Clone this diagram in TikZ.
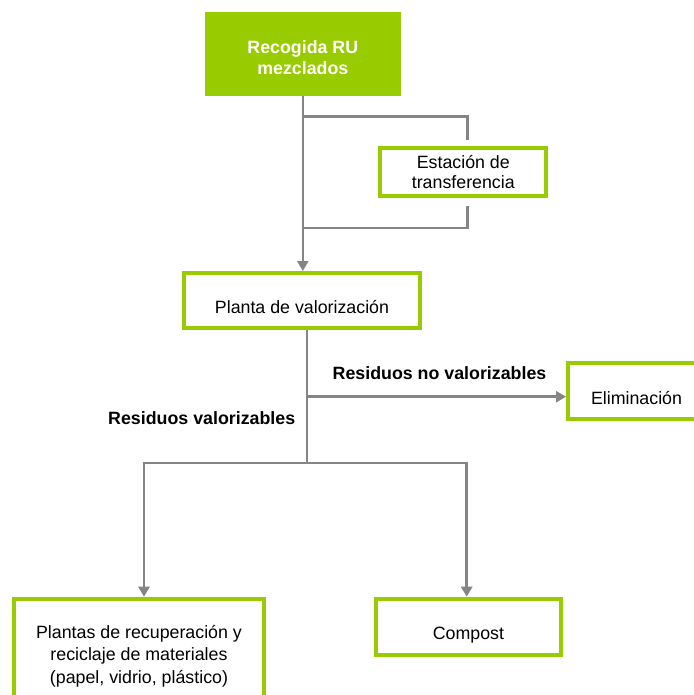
\documentclass[tikz,border=0pt]{standalone}
\usepackage{fontspec}
\setmainfont{Liberation Sans}
\usetikzlibrary{arrows.meta}

\definecolor{lime}{HTML}{99CC00}
\definecolor{flowgray}{HTML}{858585}
\newcommand{\flowfont}{\fontsize{17.8}{21.5}\selectfont}

\begin{document}
\begin{tikzpicture}[
        x=1pt, y=-1pt,
        font=\flowfont,
        box/.style={draw=lime, line width=4pt, inner sep=0pt},
        topbox/.style={fill=lime, draw=lime, line width=1pt, inner sep=0pt, align=center, text=white, font=\flowfont\bfseries},
        lowtext/.style={text height=26pt, text depth=0pt},
        tag/.style={font=\flowfont\bfseries},
        flow/.style={draw=flowgray, line width=2.5pt},
        flowarrow/.style={flow, -{Triangle[width=11pt, length=10pt]}},
    ]

    % Marco del dibujo
    \useasboundingbox (0,0) rectangle (693,695);

    % Cajas
    \node[topbox, text height=42pt, text depth=0pt, minimum width=194.7pt, minimum height=82.4pt] (recogida) at (302.8,54) {Recogida RU\\mezclados};
    \node[box, align=center, minimum width=166pt, minimum height=48pt] (estacion) at (463.3,171.7) {Estación de\\[-1.5pt]transferencia};
    \node[box, lowtext, minimum width=235.4pt, minimum height=55pt] (planta) at (302,300.5) {Planta de valorización};
    \node[box, lowtext, minimum width=137pt, minimum height=56pt] (eliminacion) at (636.5,391) {Eliminación};
    \node[box, align=center, minimum width=249.4pt, minimum height=114.6pt] (plantas) at (139,656) {Plantas de recuperación y\\[1pt]reciclaje de materiales\\[1pt](papel, vidrio, plástico)};
    \node[box, lowtext, minimum width=184.7pt, minimum height=56pt] (compost) at (468.4,626.7) {Compost};

    % Etiquetas de las ramas
    \node[tag] (noval) at (439.5,373) {Residuos no valorizables};
    \node[tag] (val) at (201.7,418) {Residuos valorizables};

    % Puntos de paso
    \coordinate (desvio) at (recogida.south |- 0,116.7);
    \coordinate (retorno) at (recogida.south |- 0,228);
    \coordinate (entrada) at ([xshift=4pt, yshift=6pt]estacion.north);
    \coordinate (salida) at ([xshift=4pt, yshift=-8pt]estacion.south);
    \coordinate (tronco) at ([xshift=5pt]planta.south);
    \coordinate (rechazo) at (tronco |- 0,396.7);
    \coordinate (reparto) at (tronco |- 0,463);

    % Recogida -> planta, con el paso por la estacion
    \draw[flowarrow] (recogida.south) -- (recogida.south |- planta.north);
    \draw[flow] (desvio) -| (entrada);
    \draw[flow] (salida) |- (retorno);

    % Planta -> destinos
    \draw[flow] (tronco) -- (reparto);
    \draw[flowarrow] (rechazo) -- (rechazo -| eliminacion.west);
    \draw[flowarrow] (reparto) -| ([xshift=5pt]plantas.north);
    \draw[flowarrow] (reparto) -| ([xshift=-1.7pt]compost.north);

    \end{tikzpicture}
\end{document}
